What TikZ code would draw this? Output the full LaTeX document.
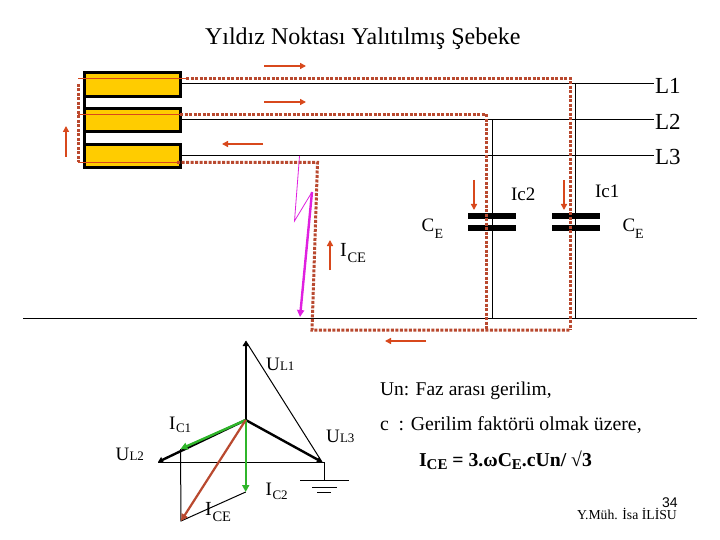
\documentclass[tikz,border=0pt]{standalone}
\usepackage{fontspec}
\setmainfont{Liberation Serif}
\newfontfamily\arialf{Liberation Sans}
\usetikzlibrary{arrows.meta}
\definecolor{redd}{HTML}{B9492F}
\definecolor{arrowr}{HTML}{D8481C}
\definecolor{goldb}{HTML}{FFCC00}
\definecolor{greenv}{HTML}{2FB52A}
\definecolor{magl}{HTML}{E020E0}
\tikzset{
  txt/.style={anchor=base west,inner sep=0pt,outer sep=0pt},
  wire/.style={draw=black,line width=1pt},
  thinr/.style={draw=arrowr,line width=1pt},
  dots/.style={draw=redd,line width=3pt,dash pattern=on 3pt off 1.5pt},
  curarrow/.style={draw=arrowr,line width=1.6pt,-{Triangle[length=6pt,width=6pt]}},
  winding/.style={draw=black,line width=3pt,fill=goldb,inner sep=0pt,outer sep=0pt,anchor=north west},
  plate/.style={fill=black,draw=none},
  phasor/.style={draw=black,line width=2.4pt,-{Triangle[length=5pt,width=6pt]}},
  grn/.style={draw=greenv,line width=2.4pt,-{Triangle[length=7pt,width=7pt]}},
}
\newcommand{\sz}[1]{\fontsize{#1}{#1}\selectfont}
\begin{document}
\begin{tikzpicture}[x=1pt,y=-1pt]
\useasboundingbox (0,0) rectangle (720,540);
\fill[white] (0,0) rectangle (720,540);
% title
\node[txt] (title) at (205,45) {\sz{24}Yıldız Noktası Yalıtılmış Şebeke};
% windings
\node[winding,minimum width=96pt,minimum height=24pt] (w1) at (84.5,72.5) {};
\node[winding,minimum width=96pt,minimum height=23.5pt] (w2) at (84.5,108.5) {};
\node[winding,minimum width=96pt,minimum height=23.5pt] (w3) at (84.5,144.5) {};
\draw[draw=black,line width=3pt] (84.5,72) -- (84.5,168);
% line labels
\node[txt] (L1) at (655,93.5) {\sz{23}L1};
\node[txt] (L2) at (655,129.5) {\sz{23}L2};
\node[txt] (L3) at (655,165) {\sz{23}L3};
% wires
\coordinate (e1) at (654,84);\coordinate (e2) at (654,120);\coordinate (e3) at (654,156);
\coordinate (t2) at (492,120);\coordinate (t1) at (575,84);
\coordinate (g2) at (492,318);\coordinate (g1) at (575,318);
\draw[wire] (182,84) -- (e1);
\draw[wire] (182,120) -- (e2);
\draw[wire] (182,156) -- (e3);
\draw[wire] (t1) -- (g1);
\draw[wire] (t2) -- (g2);
\draw[wire] (23,318) -- (697,318);
% capacitors
\fill[plate] (468,213) rectangle (516,219);
\fill[plate] (468,225) rectangle (516,231);
\fill[plate] (552,213) rectangle (600,219);
\fill[plate] (552,225) rectangle (600,231);
% dotted current path
\draw[dots] (186,78.5) -- (570,78.5) -- (570,330);
\draw[dots] (180,114.5) -- (486,114.5) -- (486,330);
\draw[dots] (177,162.5) -- (317.5,162.5) -- (312,330) -- (570,330);
\draw[dots] (78.5,84) -- (78.5,162);
% thin red through windings
\draw[thinr] (78,78.5) -- (186,78.5);
\draw[thinr] (78,114.5) -- (180,114.5);
\draw[thinr] (78,162.5) -- (178,162.5);
% current arrows
\draw[curarrow] (264,66) -- (306,66);
\draw[curarrow] (264,102) -- (306,102);
\draw[curarrow] (263,144) -- (222,144);
\draw[curarrow] (66,157) -- (66,126);
\draw[curarrow] (330,270) -- (330,240);
\draw[curarrow] (474,180) -- (474,210);
\draw[curarrow] (564,180) -- (564,210);
\draw[curarrow] (426,341) -- (385,341);
% lightning
\draw[draw=magl,line width=.8pt] (299.5,156) -- (294.5,221) -- (312,192);
\draw[draw=magl,line width=2.4pt,-{Triangle[length=7pt,width=7pt]}] (312,192) -- (300,317);
% labels upper
\node[txt] (ic2) at (511,200.5) {\sz{19}Ic2};
\node[txt] (ic1) at (595,197) {\sz{19}Ic1};
\node[txt] (ce1) at (421.5,232) {\sz{19}C};
\node[txt] (ce1s) at (434.5,238) {\sz{14}E};
\node[txt] (ce2) at (622.5,232) {\sz{19}C};
\node[txt] (ce2s) at (635,238) {\sz{14}E};
\node[txt] (ice) at (340,256.5) {\sz{20}I};
\node[txt] (ices) at (347.5,262) {\sz{14.5}CE};
% phasors
\coordinate (N) at (245.7,420);
\coordinate (A) at (245.7,341);
\coordinate (B) at (158,462);
\coordinate (C) at (322,462);
\coordinate (G1) at (180.5,449);
\coordinate (G2) at (245.7,492);
\coordinate (R) at (181,521);
\coordinate (gt) at (324,462);
\coordinate (gb) at (324,480);
\draw[wire] (A) -- (C);
\draw[wire] (B) -- (gt) -- (gb);
\draw[wire] (G1) -- (R) -- (G2);
\draw[wire] (300,480.5) -- (349,480.5);
\draw[wire] (312,487) -- (337,487);
\draw[wire] (317,492.5) -- (331,492.5);
\draw[phasor] (N) -- (A);
\draw[phasor] (N) -- (B);
\draw[phasor] (N) -- (C);
\draw[grn] (N) -- (G1);
\draw[grn] (N) -- (G2);
\draw[draw=redd,line width=2.2pt,-{Triangle[length=7pt,width=7pt]}] (N) -- (R);
% phasor labels
\node[txt] (u1) at (266,370.5) {\sz{19}U};
\node[txt] (u1s) at (280,370.5) {\sz{13}L1};
\node[txt] (u3) at (326,442.5) {\sz{19}U};
\node[txt] (u3s) at (340,442.5) {\sz{13}L3};
\node[txt] (u2) at (115.5,460.5) {\sz{19}U};
\node[txt] (u2s) at (129.5,460.5) {\sz{13}L2};
\node[txt] (ic) at (169,429) {\sz{19}I};
\node[txt] (ics) at (176,432.5) {\sz{13}C1};
\node[txt] (icb) at (265.5,495.5) {\sz{19}I};
\node[txt] (icbs) at (272.5,499) {\sz{13}C2};
\node[txt] (iceb) at (205,515.5) {\sz{20}I};
\node[txt] (icebs) at (212.5,521) {\sz{14.5}CE};
% right text
\node[txt] (un) at (380,395) {\sz{19.5}Un: Faz arası gerilim,};
\node[txt] (cc) at (380,430) {\sz{19.8}c~ : Gerilim faktörü olmak üzere,};
\node[txt] (form) at (419,466.5) {\sz{19.7}\bfseries I\raisebox{-3pt}{\sz{15}CE} = 3.ωC\raisebox{-3pt}{\sz{15}E}.cUn/ √3};
\node[txt] (pg) at (662,507) {\arialf\sz{14}34};
\node[txt] (auth) at (577,519) {\sz{13.7}Y.Müh. İsa İLİSU};
\end{tikzpicture}
\end{document}
